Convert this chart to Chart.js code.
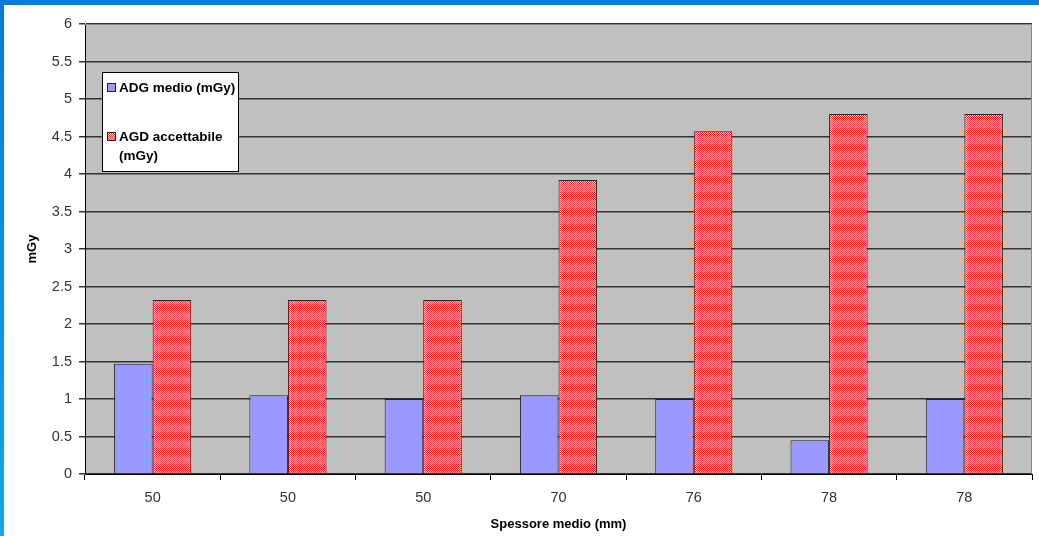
<!DOCTYPE html>
<html>
<head>
<meta charset="utf-8">
<script src="https://cdn.jsdelivr.net/npm/chart.js@4/dist/chart.umd.min.js"></script>
<style>
  html, body { margin: 0; padding: 0; background: #fff; }
  #wrap { position: relative; width: 1039px; height: 536px; overflow: hidden; }
  #topbar { position: absolute; left: 0; top: 0; width: 1039px; height: 5px; background: #0a78d6; }
  #leftbar { position: absolute; left: 0; top: 0; width: 4px; height: 536px; background: linear-gradient(#0a78d6, #14a6e6); }
</style>
</head>
<body>
<div id="wrap">
  <canvas id="grafico" width="1039" height="536"></canvas>
  <div id="topbar"></div>
  <div id="leftbar"></div>
</div>
<script>
const categorie = ['50', '50', '50', '70', '76', '78', '78'];
const adgMedio = [1.47, 1.05, 1.0, 1.05, 1.0, 0.45, 1.0];
const agdAccettabile = [2.32, 2.32, 2.32, 3.92, 4.57, 4.8, 4.8];
const etichettaADG = 'ADG medio (mGy)';
const etichettaAGD = ['AGD accettabile', '(mGy)'];

// trama a scacchi rossa, con bande come nell'originale
function creaTrama() {
    const c = document.createElement('canvas');
    c.width = 2;
    c.height = 16;
    const g = c.getContext('2d');
    for (let y = 0; y < 16; y++) {
        const forte = y < 8;
        for (let x = 0; x < 2; x++) {
            const scuro = (x + y) % 2 === 0;
            if (forte) g.fillStyle = scuro ? '#ff2020' : '#ffd0d0';
            else g.fillStyle = scuro ? '#ff5050' : '#ffa0a0';
            g.fillRect(x, y, 1, 1);
        }
    }
    return g.createPattern(c, 'repeat');
}

const trama = creaTrama();
const font = "'Liberation Sans', Arial, sans-serif";

const sfondoArea = {
    id: 'sfondoArea',
    beforeDraw(chart) {
        const { ctx, chartArea: a } = chart;
        ctx.save();
        ctx.fillStyle = '#c0c0c0';
        ctx.fillRect(a.left, a.top, a.right - a.left, a.bottom - a.top);
        ctx.restore();
    },
    afterDatasetsDraw(chart) {
        const { ctx, chartArea: a } = chart;
        ctx.save();
        ctx.strokeStyle = '#888';
        ctx.lineWidth = 1;
        ctx.beginPath();
        ctx.moveTo(a.left, a.top + 0.5);
        ctx.lineTo(a.right - 0.5, a.top + 0.5);
        ctx.lineTo(a.right - 0.5, a.bottom);
        ctx.stroke();
        ctx.restore();
    }
};

const legenda = {
    id: 'legenda',
    afterDraw(chart) {
        const { ctx, chartArea: a } = chart;
        const x = a.left + 17;
        const y = a.top + 48;
        ctx.save();
        ctx.fillStyle = '#fff';
        ctx.fillRect(x, y, 136, 99);
        ctx.strokeStyle = '#000';
        ctx.lineWidth = 1;
        ctx.strokeRect(x + 0.5, y + 0.5, 136, 99);

        ctx.font = 'bold 13.5px ' + font;
        ctx.textBaseline = 'middle';
        ctx.fillStyle = '#9999ff';
        ctx.fillRect(x + 5, y + 11, 9, 9);
        ctx.strokeStyle = '#222';
        ctx.strokeRect(x + 5.5, y + 11.5, 8, 8);
        ctx.fillStyle = '#000';
        ctx.fillText(etichettaADG, x + 17, y + 16);

        ctx.fillStyle = trama;
        ctx.fillRect(x + 5, y + 60, 9, 9);
        ctx.strokeRect(x + 5.5, y + 60.5, 8, 8);
        ctx.fillStyle = '#000';
        ctx.fillText(etichettaAGD[0], x + 17, y + 65);
        ctx.fillText(etichettaAGD[1], x + 17, y + 84);
        ctx.restore();
    }
};

new Chart(document.getElementById('grafico'), {
    type: 'bar',
    data: {
        labels: categorie,
        datasets: [
            {
                label: etichettaADG,
                data: adgMedio,
                backgroundColor: '#9999ff',
                borderColor: '#222',
                borderWidth: 1,
            },
            {
                label: etichettaAGD.join(' '),
                data: agdAccettabile,
                backgroundColor: trama,
                borderColor: '#222',
                borderWidth: 1,
            },
        ],
    },
    options: {
        responsive: false,
        animation: false,
        devicePixelRatio: 1,
        layout: { padding: { left: 0, top: 24, right: 7, bottom: 0 } },
        datasets: { bar: { barPercentage: 1, categoryPercentage: 0.57 } },
        plugins: { legend: { display: false }, tooltip: { enabled: false } },
        scales: {
            x: {
                afterFit: s => { s.height = 62; },
                grid: { drawOnChartArea: false, offset: true, tickLength: 6, color: '#000' },
                border: { color: '#000' },
                ticks: { padding: 9, color: '#333', font: { family: font, size: 14.5 } },
                title: {
                    display: true,
                    text: 'Spessore medio (mm)',
                    color: '#000',
                    font: { family: font, size: 13, weight: 'bold' },
                    padding: { top: 0, bottom: 4 },
                },
            },
            y: {
                min: 0,
                max: 6,
                afterFit: s => { s.width = 85; },
                grid: { color: '#333', lineWidth: 1.5, tickLength: 6, tickColor: '#333' },
                border: { color: '#000' },
                ticks: {
                    stepSize: 0.5,
                    padding: 7,
                    color: '#333',
                    font: { family: font, size: 14.5 },
                    callback: v => String(v),
                },
                title: {
                    display: true,
                    text: 'mGy',
                    color: '#000',
                    font: { family: font, size: 13, weight: 'bold' },
                    padding: { top: 25, bottom: 0 },
                },
            },
        },
    },
    plugins: [sfondoArea, legenda],
});
</script>
</body>
</html>
